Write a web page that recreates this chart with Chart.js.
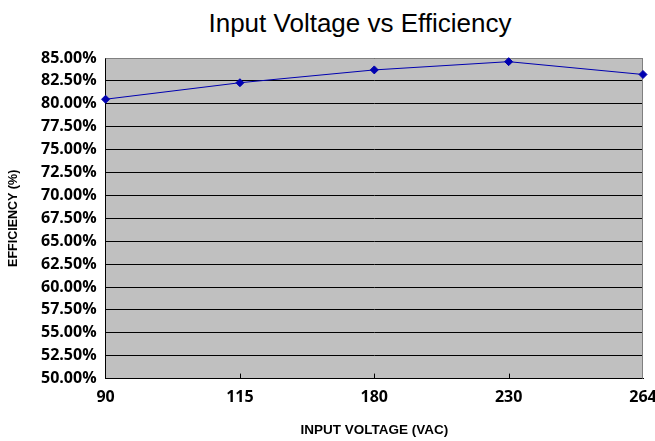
<!DOCTYPE html>
<html><head><meta charset="utf-8">
<script src="https://cdn.jsdelivr.net/npm/chart.js@4/dist/chart.umd.min.js"></script>
<style>
html,body{margin:0;padding:0;background:#fff}
#wrap{position:relative;width:655px;height:441px}
#title{position:absolute;left:65px;width:590px;top:8px;line-height:30px;text-align:center;
  font-family:'Liberation Sans',Arial,sans-serif;font-size:26px;color:#000;white-space:nowrap}
canvas{position:absolute;left:0;top:0}
</style>
</head><body><div id="wrap"><div id="title">Input Voltage vs Efficiency</div><canvas id="c" width="655" height="441"></canvas></div>
<script>
const categories = ["90", "115", "180", "230", "264"];
const efficiency = [80.5, 82.3, 83.7, 84.6, 83.2];
const yMin = 50, yMax = 85, yStep = 2.5;

const plotBg = {
  id: 'plotBg',
  beforeDraw(chart) {
    const {ctx, chartArea: a} = chart;
    ctx.save();
    ctx.fillStyle = '#C0C0C0';
    ctx.fillRect(a.left, a.top, a.right - a.left, a.bottom - a.top);
    ctx.restore();
  },
  beforeDatasetsDraw(chart) {
    const {ctx, chartArea: a, scales} = chart;
    ctx.save();
    ctx.strokeStyle = '#808080';
    ctx.lineWidth = 1;
    ctx.beginPath();
    ctx.moveTo(a.left, a.top + 0.5); ctx.lineTo(a.right, a.top + 0.5);
    ctx.moveTo(a.right - 0.5, a.top); ctx.lineTo(a.right - 0.5, a.bottom);
    ctx.stroke();
    ctx.strokeStyle = '#000';
    ctx.beginPath();
    const xs = scales.x;
    for (let i = 1; i < categories.length - 1; i++) {
      const px = Math.round(xs.getPixelForTick(i)) + 0.5;
      ctx.moveTo(px, a.bottom); ctx.lineTo(px, a.bottom - 5);
    }
    ctx.stroke();
    ctx.restore();
  }
};

new Chart(document.getElementById('c'), {
  type: 'line',
  data: {
    labels: categories,
    datasets: [{
      data: efficiency,
      borderColor: '#0000B0',
      backgroundColor: '#0000B0',
      borderWidth: 1,
      pointStyle: 'rectRot',
      pointRadius: 4,
      pointHoverRadius: 4,
      tension: 0,
      clip: false
    }]
  },
  options: {
    responsive: false,
    animation: false,
    events: [],
    layout: { padding: { left: 5, right: 12, top: 58, bottom: 3 } },
    plugins: {
      legend: { display: false },
      tooltip: { enabled: false },
      title: { display: false }
    },
    scales: {
      x: {
        offset: false,
        afterFit(scale) { scale.paddingRight = 0; },
        grid: { display: false, drawTicks: false },
        border: { display: true, color: '#000', width: 1 },
        ticks: { color: '#000', padding: 9, autoSkip: false, font: { family: 'Open Sans', size: 16, weight: 'bold' }, maxRotation: 0 },
        title: { display: true, text: 'INPUT VOLTAGE (VAC)', color: '#000',
          font: { family: 'Liberation Sans', size: 13.5, weight: 'bold' }, padding: { top: 6, bottom: 0 } }
      },
      y: {
        min: yMin, max: yMax,
        grid: { color: '#000', lineWidth: 1, drawTicks: false },
        border: { display: true, color: '#000', width: 1 },
        ticks: { stepSize: yStep, autoSkip: false, color: '#000', padding: 9,
          font: { family: 'Open Sans', size: 16, weight: 'bold' },
          callback: v => v.toFixed(2) + '%' },
        title: { display: true, text: 'EFFICIENCY (%)', color: '#000',
          font: { family: 'Liberation Sans', size: 12.5, weight: 'bold' }, padding: { top: 1, bottom: 11 } }
      }
    }
  },
  plugins: [plotBg]
});
</script></body></html>
